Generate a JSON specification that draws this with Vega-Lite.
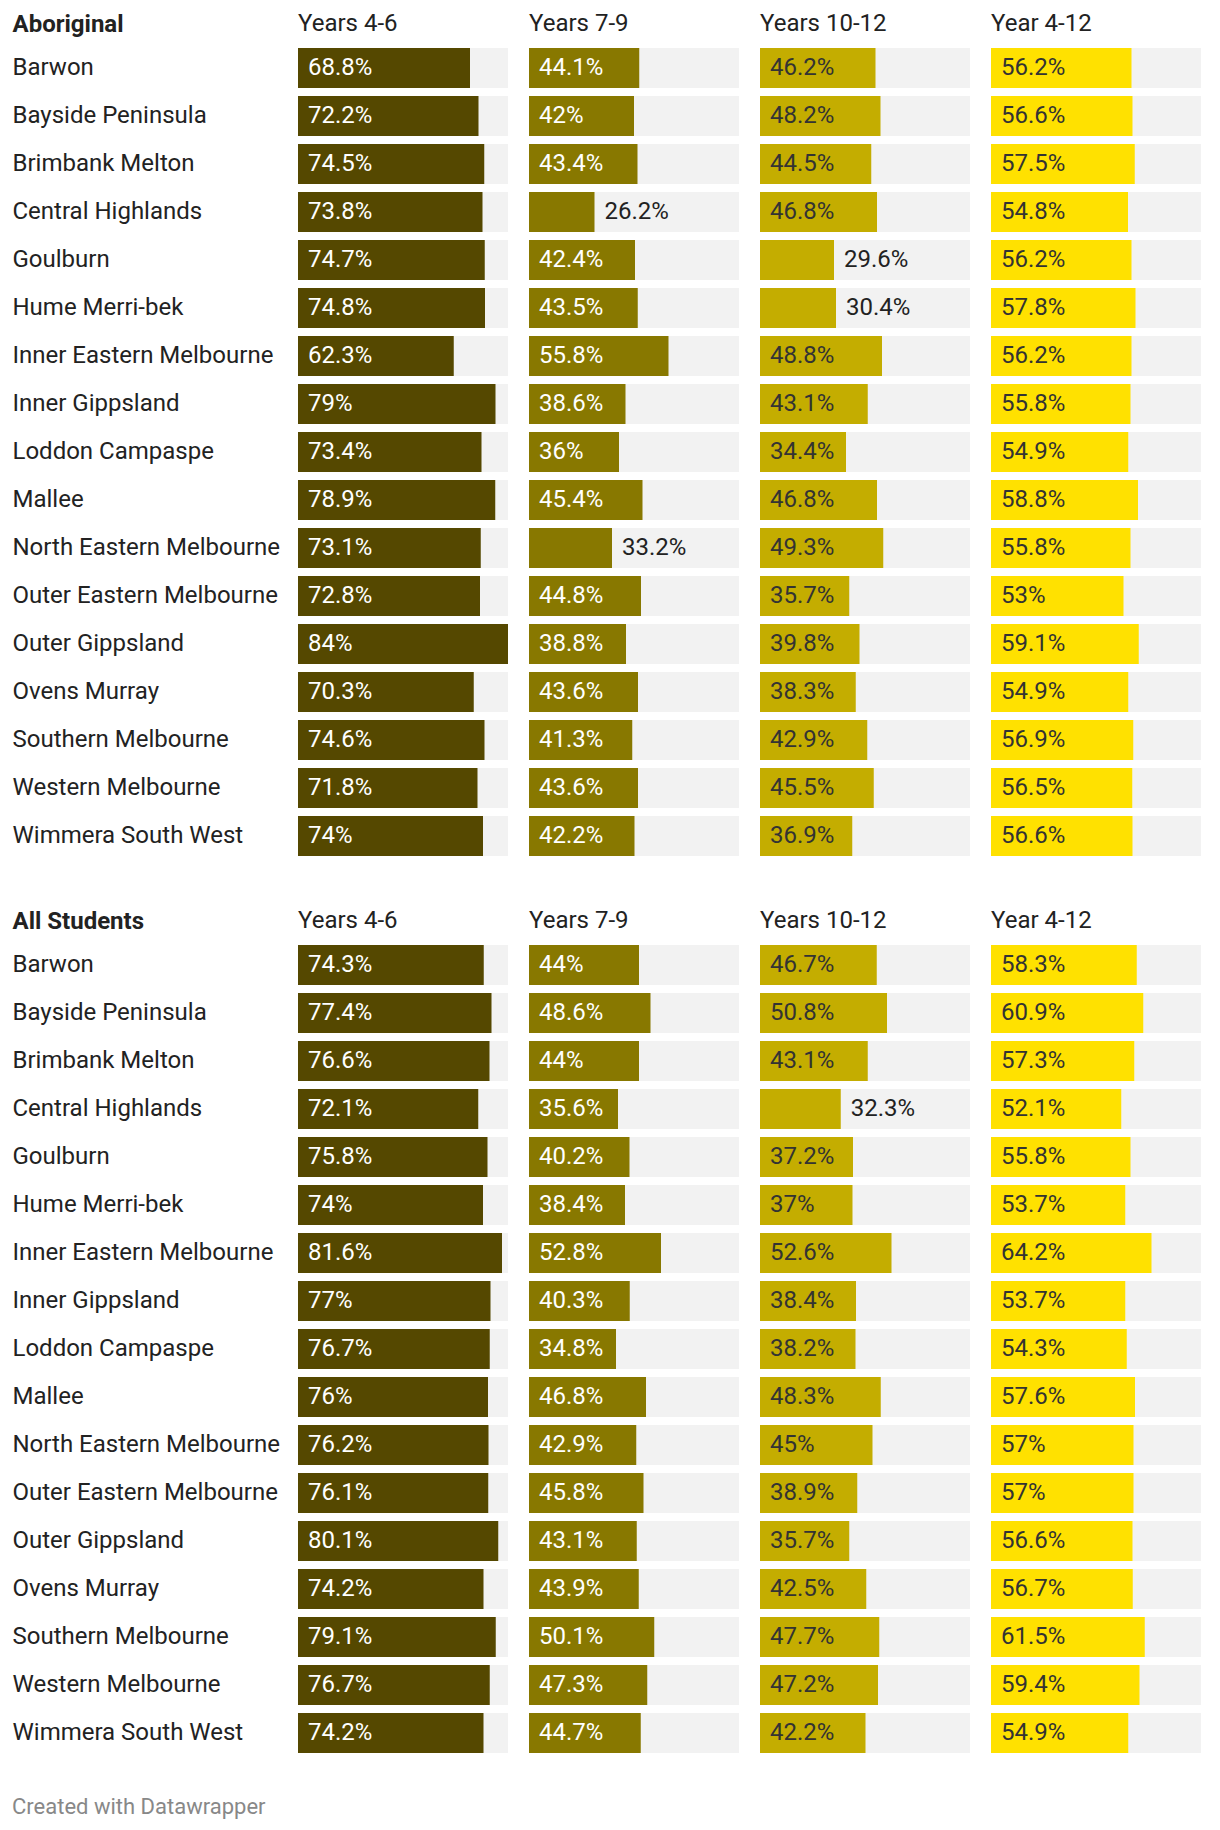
{
  "$schema": "https://vega.github.io/schema/vega-lite/v6.json",
  "background": "white",
  "padding": {"left": 12, "top": 12, "right": 19, "bottom": 12},
  "config": {"font": "Roboto", "view": {"stroke": null}},
  "datasets": {
    "rows": [
      {"section": "Aboriginal", "region": "Barwon", "group": "Years 4-6", "value": 68.8},
      {"section": "Aboriginal", "region": "Barwon", "group": "Years 7-9", "value": 44.1},
      {"section": "Aboriginal", "region": "Barwon", "group": "Years 10-12", "value": 46.2},
      {"section": "Aboriginal", "region": "Barwon", "group": "Year 4-12", "value": 56.2},
      {"section": "Aboriginal", "region": "Bayside Peninsula", "group": "Years 4-6", "value": 72.2},
      {"section": "Aboriginal", "region": "Bayside Peninsula", "group": "Years 7-9", "value": 42},
      {"section": "Aboriginal", "region": "Bayside Peninsula", "group": "Years 10-12", "value": 48.2},
      {"section": "Aboriginal", "region": "Bayside Peninsula", "group": "Year 4-12", "value": 56.6},
      {"section": "Aboriginal", "region": "Brimbank Melton", "group": "Years 4-6", "value": 74.5},
      {"section": "Aboriginal", "region": "Brimbank Melton", "group": "Years 7-9", "value": 43.4},
      {"section": "Aboriginal", "region": "Brimbank Melton", "group": "Years 10-12", "value": 44.5},
      {"section": "Aboriginal", "region": "Brimbank Melton", "group": "Year 4-12", "value": 57.5},
      {"section": "Aboriginal", "region": "Central Highlands", "group": "Years 4-6", "value": 73.8},
      {"section": "Aboriginal", "region": "Central Highlands", "group": "Years 7-9", "value": 26.2},
      {"section": "Aboriginal", "region": "Central Highlands", "group": "Years 10-12", "value": 46.8},
      {"section": "Aboriginal", "region": "Central Highlands", "group": "Year 4-12", "value": 54.8},
      {"section": "Aboriginal", "region": "Goulburn", "group": "Years 4-6", "value": 74.7},
      {"section": "Aboriginal", "region": "Goulburn", "group": "Years 7-9", "value": 42.4},
      {"section": "Aboriginal", "region": "Goulburn", "group": "Years 10-12", "value": 29.6},
      {"section": "Aboriginal", "region": "Goulburn", "group": "Year 4-12", "value": 56.2},
      {"section": "Aboriginal", "region": "Hume Merri-bek", "group": "Years 4-6", "value": 74.8},
      {"section": "Aboriginal", "region": "Hume Merri-bek", "group": "Years 7-9", "value": 43.5},
      {"section": "Aboriginal", "region": "Hume Merri-bek", "group": "Years 10-12", "value": 30.4},
      {"section": "Aboriginal", "region": "Hume Merri-bek", "group": "Year 4-12", "value": 57.8},
      {"section": "Aboriginal", "region": "Inner Eastern Melbourne", "group": "Years 4-6", "value": 62.3},
      {"section": "Aboriginal", "region": "Inner Eastern Melbourne", "group": "Years 7-9", "value": 55.8},
      {"section": "Aboriginal", "region": "Inner Eastern Melbourne", "group": "Years 10-12", "value": 48.8},
      {"section": "Aboriginal", "region": "Inner Eastern Melbourne", "group": "Year 4-12", "value": 56.2},
      {"section": "Aboriginal", "region": "Inner Gippsland", "group": "Years 4-6", "value": 79},
      {"section": "Aboriginal", "region": "Inner Gippsland", "group": "Years 7-9", "value": 38.6},
      {"section": "Aboriginal", "region": "Inner Gippsland", "group": "Years 10-12", "value": 43.1},
      {"section": "Aboriginal", "region": "Inner Gippsland", "group": "Year 4-12", "value": 55.8},
      {"section": "Aboriginal", "region": "Loddon Campaspe", "group": "Years 4-6", "value": 73.4},
      {"section": "Aboriginal", "region": "Loddon Campaspe", "group": "Years 7-9", "value": 36},
      {"section": "Aboriginal", "region": "Loddon Campaspe", "group": "Years 10-12", "value": 34.4},
      {"section": "Aboriginal", "region": "Loddon Campaspe", "group": "Year 4-12", "value": 54.9},
      {"section": "Aboriginal", "region": "Mallee", "group": "Years 4-6", "value": 78.9},
      {"section": "Aboriginal", "region": "Mallee", "group": "Years 7-9", "value": 45.4},
      {"section": "Aboriginal", "region": "Mallee", "group": "Years 10-12", "value": 46.8},
      {"section": "Aboriginal", "region": "Mallee", "group": "Year 4-12", "value": 58.8},
      {"section": "Aboriginal", "region": "North Eastern Melbourne", "group": "Years 4-6", "value": 73.1},
      {"section": "Aboriginal", "region": "North Eastern Melbourne", "group": "Years 7-9", "value": 33.2},
      {"section": "Aboriginal", "region": "North Eastern Melbourne", "group": "Years 10-12", "value": 49.3},
      {"section": "Aboriginal", "region": "North Eastern Melbourne", "group": "Year 4-12", "value": 55.8},
      {"section": "Aboriginal", "region": "Outer Eastern Melbourne", "group": "Years 4-6", "value": 72.8},
      {"section": "Aboriginal", "region": "Outer Eastern Melbourne", "group": "Years 7-9", "value": 44.8},
      {"section": "Aboriginal", "region": "Outer Eastern Melbourne", "group": "Years 10-12", "value": 35.7},
      {"section": "Aboriginal", "region": "Outer Eastern Melbourne", "group": "Year 4-12", "value": 53},
      {"section": "Aboriginal", "region": "Outer Gippsland", "group": "Years 4-6", "value": 84},
      {"section": "Aboriginal", "region": "Outer Gippsland", "group": "Years 7-9", "value": 38.8},
      {"section": "Aboriginal", "region": "Outer Gippsland", "group": "Years 10-12", "value": 39.8},
      {"section": "Aboriginal", "region": "Outer Gippsland", "group": "Year 4-12", "value": 59.1},
      {"section": "Aboriginal", "region": "Ovens Murray", "group": "Years 4-6", "value": 70.3},
      {"section": "Aboriginal", "region": "Ovens Murray", "group": "Years 7-9", "value": 43.6},
      {"section": "Aboriginal", "region": "Ovens Murray", "group": "Years 10-12", "value": 38.3},
      {"section": "Aboriginal", "region": "Ovens Murray", "group": "Year 4-12", "value": 54.9},
      {"section": "Aboriginal", "region": "Southern Melbourne", "group": "Years 4-6", "value": 74.6},
      {"section": "Aboriginal", "region": "Southern Melbourne", "group": "Years 7-9", "value": 41.3},
      {"section": "Aboriginal", "region": "Southern Melbourne", "group": "Years 10-12", "value": 42.9},
      {"section": "Aboriginal", "region": "Southern Melbourne", "group": "Year 4-12", "value": 56.9},
      {"section": "Aboriginal", "region": "Western Melbourne", "group": "Years 4-6", "value": 71.8},
      {"section": "Aboriginal", "region": "Western Melbourne", "group": "Years 7-9", "value": 43.6},
      {"section": "Aboriginal", "region": "Western Melbourne", "group": "Years 10-12", "value": 45.5},
      {"section": "Aboriginal", "region": "Western Melbourne", "group": "Year 4-12", "value": 56.5},
      {"section": "Aboriginal", "region": "Wimmera South West", "group": "Years 4-6", "value": 74},
      {"section": "Aboriginal", "region": "Wimmera South West", "group": "Years 7-9", "value": 42.2},
      {"section": "Aboriginal", "region": "Wimmera South West", "group": "Years 10-12", "value": 36.9},
      {"section": "Aboriginal", "region": "Wimmera South West", "group": "Year 4-12", "value": 56.6},
      {"section": "All Students", "region": "Barwon", "group": "Years 4-6", "value": 74.3},
      {"section": "All Students", "region": "Barwon", "group": "Years 7-9", "value": 44},
      {"section": "All Students", "region": "Barwon", "group": "Years 10-12", "value": 46.7},
      {"section": "All Students", "region": "Barwon", "group": "Year 4-12", "value": 58.3},
      {"section": "All Students", "region": "Bayside Peninsula", "group": "Years 4-6", "value": 77.4},
      {"section": "All Students", "region": "Bayside Peninsula", "group": "Years 7-9", "value": 48.6},
      {"section": "All Students", "region": "Bayside Peninsula", "group": "Years 10-12", "value": 50.8},
      {"section": "All Students", "region": "Bayside Peninsula", "group": "Year 4-12", "value": 60.9},
      {"section": "All Students", "region": "Brimbank Melton", "group": "Years 4-6", "value": 76.6},
      {"section": "All Students", "region": "Brimbank Melton", "group": "Years 7-9", "value": 44},
      {"section": "All Students", "region": "Brimbank Melton", "group": "Years 10-12", "value": 43.1},
      {"section": "All Students", "region": "Brimbank Melton", "group": "Year 4-12", "value": 57.3},
      {"section": "All Students", "region": "Central Highlands", "group": "Years 4-6", "value": 72.1},
      {"section": "All Students", "region": "Central Highlands", "group": "Years 7-9", "value": 35.6},
      {"section": "All Students", "region": "Central Highlands", "group": "Years 10-12", "value": 32.3},
      {"section": "All Students", "region": "Central Highlands", "group": "Year 4-12", "value": 52.1},
      {"section": "All Students", "region": "Goulburn", "group": "Years 4-6", "value": 75.8},
      {"section": "All Students", "region": "Goulburn", "group": "Years 7-9", "value": 40.2},
      {"section": "All Students", "region": "Goulburn", "group": "Years 10-12", "value": 37.2},
      {"section": "All Students", "region": "Goulburn", "group": "Year 4-12", "value": 55.8},
      {"section": "All Students", "region": "Hume Merri-bek", "group": "Years 4-6", "value": 74},
      {"section": "All Students", "region": "Hume Merri-bek", "group": "Years 7-9", "value": 38.4},
      {"section": "All Students", "region": "Hume Merri-bek", "group": "Years 10-12", "value": 37},
      {"section": "All Students", "region": "Hume Merri-bek", "group": "Year 4-12", "value": 53.7},
      {"section": "All Students", "region": "Inner Eastern Melbourne", "group": "Years 4-6", "value": 81.6},
      {"section": "All Students", "region": "Inner Eastern Melbourne", "group": "Years 7-9", "value": 52.8},
      {"section": "All Students", "region": "Inner Eastern Melbourne", "group": "Years 10-12", "value": 52.6},
      {"section": "All Students", "region": "Inner Eastern Melbourne", "group": "Year 4-12", "value": 64.2},
      {"section": "All Students", "region": "Inner Gippsland", "group": "Years 4-6", "value": 77},
      {"section": "All Students", "region": "Inner Gippsland", "group": "Years 7-9", "value": 40.3},
      {"section": "All Students", "region": "Inner Gippsland", "group": "Years 10-12", "value": 38.4},
      {"section": "All Students", "region": "Inner Gippsland", "group": "Year 4-12", "value": 53.7},
      {"section": "All Students", "region": "Loddon Campaspe", "group": "Years 4-6", "value": 76.7},
      {"section": "All Students", "region": "Loddon Campaspe", "group": "Years 7-9", "value": 34.8},
      {"section": "All Students", "region": "Loddon Campaspe", "group": "Years 10-12", "value": 38.2},
      {"section": "All Students", "region": "Loddon Campaspe", "group": "Year 4-12", "value": 54.3},
      {"section": "All Students", "region": "Mallee", "group": "Years 4-6", "value": 76},
      {"section": "All Students", "region": "Mallee", "group": "Years 7-9", "value": 46.8},
      {"section": "All Students", "region": "Mallee", "group": "Years 10-12", "value": 48.3},
      {"section": "All Students", "region": "Mallee", "group": "Year 4-12", "value": 57.6},
      {"section": "All Students", "region": "North Eastern Melbourne", "group": "Years 4-6", "value": 76.2},
      {"section": "All Students", "region": "North Eastern Melbourne", "group": "Years 7-9", "value": 42.9},
      {"section": "All Students", "region": "North Eastern Melbourne", "group": "Years 10-12", "value": 45},
      {"section": "All Students", "region": "North Eastern Melbourne", "group": "Year 4-12", "value": 57},
      {"section": "All Students", "region": "Outer Eastern Melbourne", "group": "Years 4-6", "value": 76.1},
      {"section": "All Students", "region": "Outer Eastern Melbourne", "group": "Years 7-9", "value": 45.8},
      {"section": "All Students", "region": "Outer Eastern Melbourne", "group": "Years 10-12", "value": 38.9},
      {"section": "All Students", "region": "Outer Eastern Melbourne", "group": "Year 4-12", "value": 57},
      {"section": "All Students", "region": "Outer Gippsland", "group": "Years 4-6", "value": 80.1},
      {"section": "All Students", "region": "Outer Gippsland", "group": "Years 7-9", "value": 43.1},
      {"section": "All Students", "region": "Outer Gippsland", "group": "Years 10-12", "value": 35.7},
      {"section": "All Students", "region": "Outer Gippsland", "group": "Year 4-12", "value": 56.6},
      {"section": "All Students", "region": "Ovens Murray", "group": "Years 4-6", "value": 74.2},
      {"section": "All Students", "region": "Ovens Murray", "group": "Years 7-9", "value": 43.9},
      {"section": "All Students", "region": "Ovens Murray", "group": "Years 10-12", "value": 42.5},
      {"section": "All Students", "region": "Ovens Murray", "group": "Year 4-12", "value": 56.7},
      {"section": "All Students", "region": "Southern Melbourne", "group": "Years 4-6", "value": 79.1},
      {"section": "All Students", "region": "Southern Melbourne", "group": "Years 7-9", "value": 50.1},
      {"section": "All Students", "region": "Southern Melbourne", "group": "Years 10-12", "value": 47.7},
      {"section": "All Students", "region": "Southern Melbourne", "group": "Year 4-12", "value": 61.5},
      {"section": "All Students", "region": "Western Melbourne", "group": "Years 4-6", "value": 76.7},
      {"section": "All Students", "region": "Western Melbourne", "group": "Years 7-9", "value": 47.3},
      {"section": "All Students", "region": "Western Melbourne", "group": "Years 10-12", "value": 47.2},
      {"section": "All Students", "region": "Western Melbourne", "group": "Year 4-12", "value": 59.4},
      {"section": "All Students", "region": "Wimmera South West", "group": "Years 4-6", "value": 74.2},
      {"section": "All Students", "region": "Wimmera South West", "group": "Years 7-9", "value": 44.7},
      {"section": "All Students", "region": "Wimmera South West", "group": "Years 10-12", "value": 42.2},
      {"section": "All Students", "region": "Wimmera South West", "group": "Year 4-12", "value": 54.9}
    ]
  },
  "data": {"name": "rows"},
  "title": {"text": "Created with Datawrapper", "orient": "bottom", "anchor": "start", "fontSize": 22, "fontWeight": "normal", "color": "#888888", "offset": 40, "frame": "bounds"},
  "spacing": 49,
  "vconcat": [
    {
      "transform": [{"filter": "datum.section === 'Aboriginal'"}],
      "facet": {"column": {"field": "group", "type": "nominal", "sort": ["Years 4-6", "Years 7-9", "Years 10-12", "Year 4-12"], "header": {"title": null, "labelAlign": "left", "labelAnchor": "start", "labelFontSize": 24, "labelColor": "#222222", "labelPadding": -11.3, "labelBaseline": "alphabetic"}}},
      "spacing": {"column": 21},
      "spec": {
        "width": 210,
        "height": {"step": 48},
        "encoding": {"y": {"field": "region", "type": "nominal", "scale": {"paddingInner": 0.1667, "paddingOuter": 0.0833}, "axis": {"title": "Aboriginal", "titleAngle": 0, "titleAlign": "left", "titleBaseline": "alphabetic", "titleX": -286, "titleY": -12.3, "titleFontSize": 24, "titleFontWeight": "bold", "titleColor": "#222222", "labelAlign": "left", "labelPadding": 286, "labelFontSize": 24, "labelColor": "#222222", "labelLimit": 300, "ticks": false, "domain": false, "grid": false}}},
        "layer": [
          {"mark": {"type": "bar", "color": "#f2f2f2"}, "encoding": {"x": {"datum": 84, "type": "quantitative", "scale": {"domain": [0, 84], "nice": false}, "axis": null}}},
          {"mark": {"type": "bar"}, "encoding": {"x": {"field": "value", "type": "quantitative", "scale": {"domain": [0, 84], "nice": false}, "axis": null}, "color": {"field": "group", "type": "nominal", "scale": {"domain": ["Years 4-6", "Years 7-9", "Years 10-12", "Year 4-12"], "range": ["#554800", "#887800", "#c4ad00", "#ffe100"]}, "legend": null}}},
          {"transform": [{"filter": "datum.value >= 34"}], "mark": {"type": "text", "align": "left", "dx": 10, "fontSize": 24, "text": {"expr": "format(datum.value, '.1~f') + '%'"}}, "encoding": {"x": {"datum": 0, "type": "quantitative"}, "color": {"condition": {"test": "datum.group === 'Years 4-6' || datum.group === 'Years 7-9'", "value": "#ffffff"}, "value": "#333333"}}},
          {"transform": [{"filter": "datum.value < 34"}], "mark": {"type": "text", "align": "left", "dx": 10, "fontSize": 24, "color": "#222222", "text": {"expr": "format(datum.value, '.1~f') + '%'"}}, "encoding": {"x": {"field": "value", "type": "quantitative"}}}
        ]
      }
    },
    {
      "transform": [{"filter": "datum.section === 'All Students'"}],
      "facet": {"column": {"field": "group", "type": "nominal", "sort": ["Years 4-6", "Years 7-9", "Years 10-12", "Year 4-12"], "header": {"title": null, "labelAlign": "left", "labelAnchor": "start", "labelFontSize": 24, "labelColor": "#222222", "labelPadding": -11.3, "labelBaseline": "alphabetic"}}},
      "spacing": {"column": 21},
      "spec": {
        "width": 210,
        "height": {"step": 48},
        "encoding": {"y": {"field": "region", "type": "nominal", "scale": {"paddingInner": 0.1667, "paddingOuter": 0.0833}, "axis": {"title": "All Students", "titleAngle": 0, "titleAlign": "left", "titleBaseline": "alphabetic", "titleX": -286, "titleY": -12.3, "titleFontSize": 24, "titleFontWeight": "bold", "titleColor": "#222222", "labelAlign": "left", "labelPadding": 286, "labelFontSize": 24, "labelColor": "#222222", "labelLimit": 300, "ticks": false, "domain": false, "grid": false}}},
        "layer": [
          {"mark": {"type": "bar", "color": "#f2f2f2"}, "encoding": {"x": {"datum": 84, "type": "quantitative", "scale": {"domain": [0, 84], "nice": false}, "axis": null}}},
          {"mark": {"type": "bar"}, "encoding": {"x": {"field": "value", "type": "quantitative", "scale": {"domain": [0, 84], "nice": false}, "axis": null}, "color": {"field": "group", "type": "nominal", "scale": {"domain": ["Years 4-6", "Years 7-9", "Years 10-12", "Year 4-12"], "range": ["#554800", "#887800", "#c4ad00", "#ffe100"]}, "legend": null}}},
          {"transform": [{"filter": "datum.value >= 34"}], "mark": {"type": "text", "align": "left", "dx": 10, "fontSize": 24, "text": {"expr": "format(datum.value, '.1~f') + '%'"}}, "encoding": {"x": {"datum": 0, "type": "quantitative"}, "color": {"condition": {"test": "datum.group === 'Years 4-6' || datum.group === 'Years 7-9'", "value": "#ffffff"}, "value": "#333333"}}},
          {"transform": [{"filter": "datum.value < 34"}], "mark": {"type": "text", "align": "left", "dx": 10, "fontSize": 24, "color": "#222222", "text": {"expr": "format(datum.value, '.1~f') + '%'"}}, "encoding": {"x": {"field": "value", "type": "quantitative"}}}
        ]
      }
    }
  ]
}
